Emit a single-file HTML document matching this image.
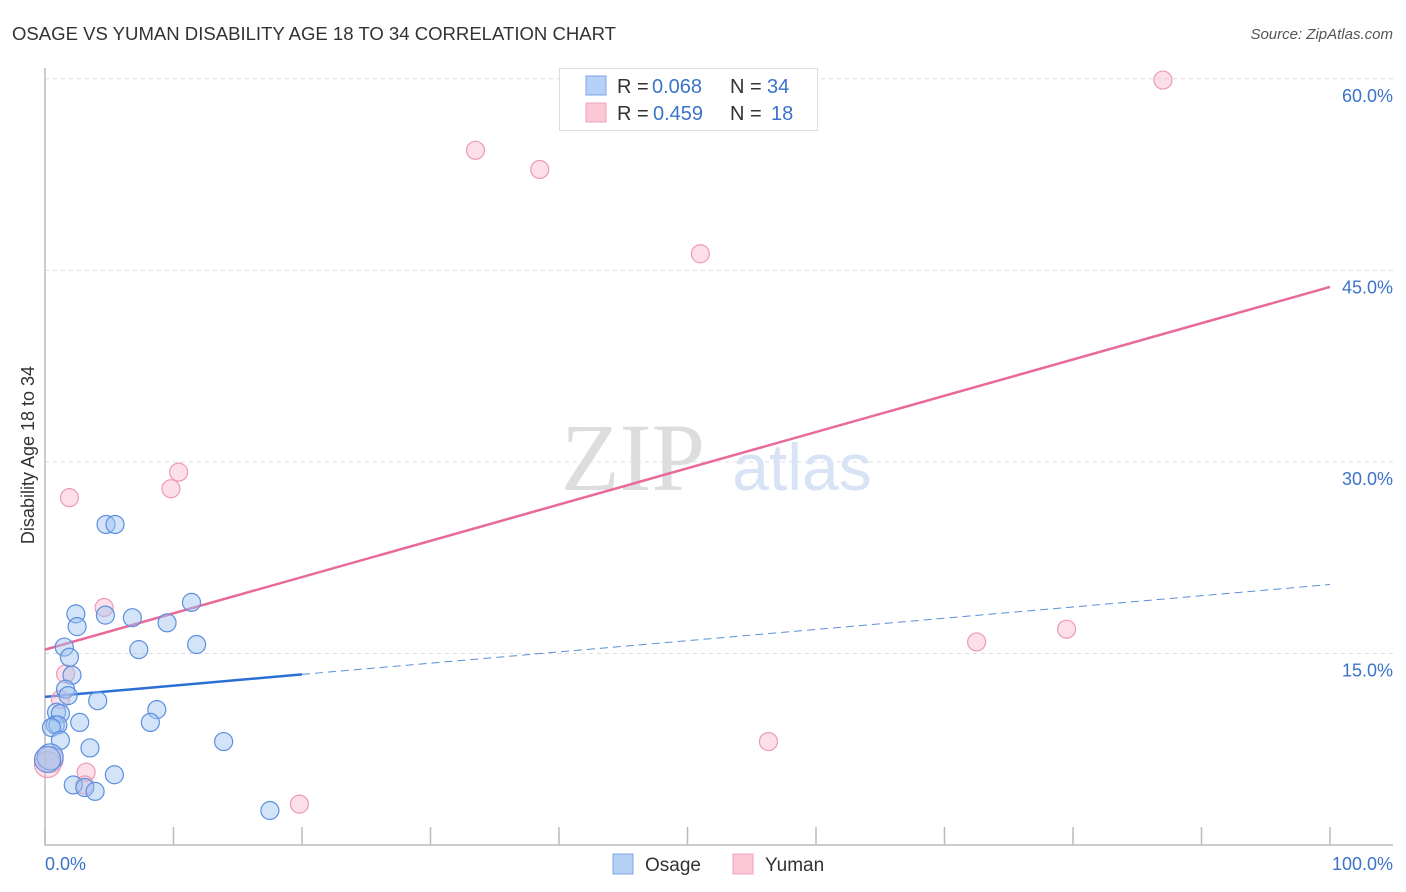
<!DOCTYPE html>
<html><head><meta charset="utf-8"><style>
body{margin:0;background:#fff;}
svg{display:block;font-family:"Liberation Sans",sans-serif;}
</style></head><body>
<svg id="chart" width="1406" height="892">
<text x="12" y="40" font-size="18" fill="#333" textLength="604" lengthAdjust="spacingAndGlyphs">OSAGE VS YUMAN DISABILITY AGE 18 TO 34 CORRELATION CHART</text>
<text x="1393" y="39" font-size="15" fill="#555" font-style="italic" text-anchor="end">Source: ZipAtlas.com</text>
<g id="grid"></g>
<text x="633" y="490" font-size="96" font-family="Liberation Serif, serif" fill="#ddd" text-anchor="middle">ZIP</text>
<text x="802" y="490" font-size="66" fill="#d8e4f5" text-anchor="middle">atlas</text>
<g id="lines"></g>
<g id="points"></g>
<text x="34" y="455" font-size="18" fill="#333" text-anchor="middle" transform="rotate(-90 34 455)">Disability Age 18 to 34</text>
<text x="45" y="870" font-size="18" fill="#3b73c9">0.0%</text>
<text x="1393" y="870" font-size="18" fill="#3b73c9" text-anchor="end">100.0%</text>
<g>
<rect x="559.5" y="68.5" width="258" height="62" fill="#fff" stroke="#ddd"/>
<rect x="586" y="76" width="20" height="19" fill="#b7d0f5" stroke="#7ca6e6"/>
<rect x="586" y="103" width="20" height="19" fill="#fbc8d8" stroke="#f0a0b8"/>
<text x="617" y="93" font-size="20" fill="#333">R = <tspan x="652" fill="#3b73c9">0.068</tspan></text>
<text x="730" y="93" font-size="20" fill="#333">N = <tspan x="767" fill="#3b73c9">34</tspan></text>
<text x="617" y="120" font-size="20" fill="#333">R = <tspan x="653" fill="#3b73c9">0.459</tspan></text>
<text x="730" y="120" font-size="20" fill="#333">N = <tspan x="771" fill="#3b73c9">18</tspan></text>
</g>
<g>
<rect x="613" y="854" width="20" height="20" fill="#b7d0f5" stroke="#7ca6e6"/>
<text x="645" y="871" font-size="19" fill="#333">Osage</text>
<rect x="733" y="854" width="20" height="20" fill="#fbc8d8" stroke="#f0a0b8"/>
<text x="765" y="871" font-size="19" fill="#333">Yuman</text>
</g>
</svg>
<script>
const osageX=[4.75,5.45,2.4,2.5,4.7,6.8,11.4,9.5,7.3,11.8,1.5,1.9,2.1,1.6,1.8,4.1,0.9,1.2,0.8,1.0,0.5,2.7,8.7,8.2,1.2,3.5,13.9,5.4,2.2,3.1,3.9,17.5,0.4,0.2];
const osageY=[25.1,25.1,18.1,17.1,18.0,17.8,19.0,17.4,15.3,15.7,15.5,14.7,13.3,12.2,11.7,11.3,10.4,10.3,9.4,9.4,9.2,9.6,10.6,9.6,8.2,7.6,8.1,5.5,4.7,4.5,4.2,2.7,6.9,6.7];
const yumanX=[1.9,10.4,9.8,4.6,1.6,1.2,3.2,3.1,0.4,0.2,33.5,38.5,51.0,87.0,72.5,79.5,56.3,19.8];
const yumanY=[27.2,29.2,27.9,18.6,13.4,11.4,5.7,4.7,6.7,6.3,54.4,52.9,46.3,59.9,15.9,16.9,8.1,3.2];
const osageTrend=[11.6,20.4];
const yumanTrend=[15.3,43.7];
const yTicks=[15,30,45,60];
const yTickLabels=["15.0%","30.0%","45.0%","60.0%"];
const xTicks=[0,10,20,30,40,50,60,70,80,90,100];

const NS="http://www.w3.org/2000/svg";
const sx=v=>45+v*12.85, sy=v=>845-v*12.77;
function mk(tag,attrs,parent){const e=document.createElementNS(NS,tag);for(const k in attrs)e.setAttribute(k,attrs[k]);parent.appendChild(e);return e;}
const grid=document.getElementById('grid');
yTicks.forEach((t,i)=>{
  const l=mk('line',{x1:45,x2:1393,y1:sy(t),y2:sy(t),stroke:'#ddd','stroke-dasharray':'4,4'},grid);
  
  
  const tx=mk('text',{x:1393,y:sy(t)+23,'font-size':18,fill:'#3b73c9','text-anchor':'end'},grid);
  tx.textContent=yTickLabels[i];
  
  
});
const ax=mk('path',{d:'M45 68V845H1393',fill:'none',stroke:'#bbb','stroke-width':1.5},grid);


xTicks.forEach(t=>{
  const l=mk('line',{x1:sx(t),x2:sx(t),y1:827,y2:845,stroke:'#bbb','stroke-width':1.5},grid);
  
  
});
const lines=document.getElementById('lines');
const at=(tr,x)=>tr[0]+(tr[1]-tr[0])*x/100;
let e=mk('line',{x1:sx(0),y1:sy(at(osageTrend,0)),x2:sx(20),y2:sy(at(osageTrend,20)),stroke:'#2a6fd4','stroke-width':2.5},lines);


e=mk('line',{x1:sx(20),y1:sy(at(osageTrend,20)),x2:sx(100),y2:sy(at(osageTrend,100)),stroke:'#5a8fd8','stroke-width':1,'stroke-dasharray':'8,5'},lines);


e=mk('line',{x1:sx(0),y1:sy(at(yumanTrend,0)),x2:sx(100),y2:sy(at(yumanTrend,100)),stroke:'#e8699a','stroke-width':2.5},lines);


const pts=document.getElementById('points');
yumanX.forEach((x,i)=>{
  const big=x<0.5;
  const c=mk('circle',{cx:sx(x),cy:sy(yumanY[i]),r:big?13:9,fill:'rgba(248,185,205,0.45)',stroke:'#ec9ab5','stroke-width':1.2},pts);
  
  
});
osageX.forEach((x,i)=>{
  const big=x<0.5;
  const c=mk('circle',{cx:sx(x),cy:sy(osageY[i]),r:big?13:9,fill:'rgba(160,196,240,0.45)',stroke:'#5b8fe0','stroke-width':1.2},pts);
  
  
});
</script>
</body></html>
